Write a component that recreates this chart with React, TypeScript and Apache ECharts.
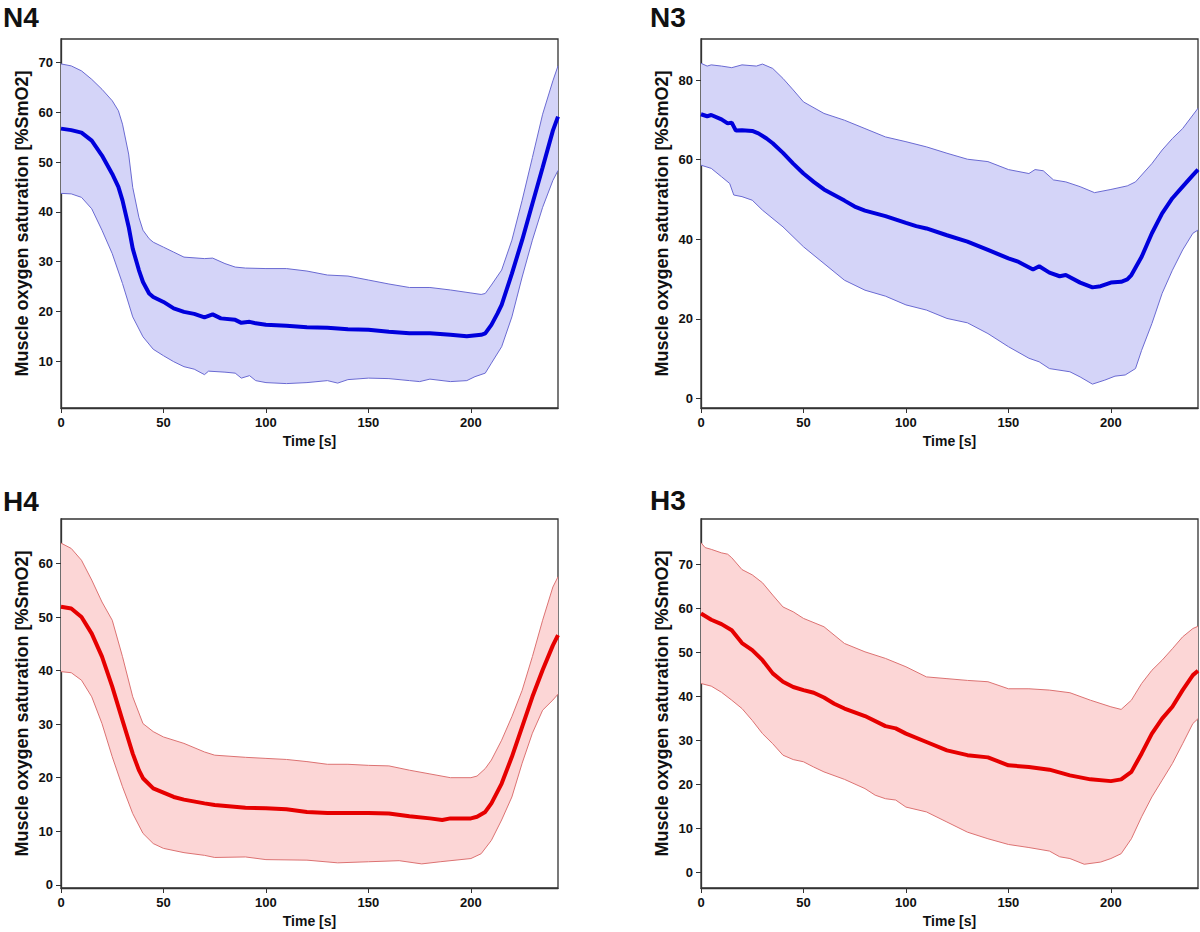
import React, { useEffect, useRef } from 'react';
import * as echarts from 'echarts';

// time [s] / %SmO2 pairs
const n4Mean = [[0,56.7],[5,56.4],[10,55.9],[15,54.3],[20,51.3],[25,47.6],[28,45],[30,42.3],[33,37],[35,32.6],[38,28.3],[40,25.9],[43,23.6],[45,22.9],[50,21.9],[55,20.6],[60,19.9],[65,19.5],[70,18.8],[74,19.4],[78,18.6],[85,18.3],[88,17.7],[92,17.9],[95,17.6],[100,17.3],[110,17.1],[120,16.8],[130,16.7],[140,16.4],[150,16.3],[160,15.9],[170,15.6],[180,15.6],[190,15.3],[198,15.0],[205,15.3],[207,15.6],[210,17.3],[213,19.6],[215,21.3],[220,27.6],[225,34.3],[230,41.6],[235,48.9],[240,56.3],[242.5,59.1]];
const n4Upper = [[0,69.7],[5,69.3],[10,68.3],[15,66.6],[20,64.6],[25,62.3],[28,60.3],[30,57.6],[33,51.6],[35,44.9],[38,38.9],[40,36.3],[43,34.6],[45,33.9],[50,32.9],[55,31.9],[60,30.9],[70,30.6],[74,30.7],[80,29.6],[85,28.9],[90,28.7],[100,28.6],[110,28.6],[120,28.1],[130,27.3],[140,27.1],[150,26.3],[160,25.5],[170,24.8],[180,24.8],[190,24.3],[200,23.7],[205,23.4],[207,23.6],[210,25.3],[215,28.3],[220,34.3],[225,42.3],[230,50.9],[235,59.6],[240,66.3],[242.5,69.3]];
const n4Lower = [[0,43.7],[5,43.6],[10,42.9],[15,40.6],[20,36.3],[25,31.6],[30,25.6],[35,18.9],[40,14.9],[45,12.4],[50,11.1],[55,9.9],[60,8.9],[65,8.4],[70,7.3],[72,8.0],[80,7.8],[85,7.6],[88,6.6],[92,7.1],[95,6.1],[100,5.7],[110,5.5],[120,5.7],[130,6.1],[135,5.6],[140,6.3],[150,6.6],[160,6.5],[170,6.1],[175,5.9],[180,6.4],[190,5.9],[198,6.1],[202,6.9],[207,7.6],[210,9.6],[215,12.9],[220,18.9],[225,26.9],[230,34.3],[235,40.9],[240,46.3],[242.5,48.3]];

const n3Mean = [[0,71.4],[3,70.9],[5,71.2],[10,70.1],[13,69.1],[15,69.3],[17,67.3],[20,67.4],[25,67.2],[28,66.6],[32,65.3],[35,64.1],[40,61.7],[45,59.0],[50,56.5],[55,54.4],[60,52.5],[65,51.1],[70,49.7],[75,48.2],[80,47.2],[90,45.8],[100,44.1],[105,43.3],[110,42.7],[120,41.0],[130,39.4],[140,37.3],[150,35.2],[155,34.3],[162,32.4],[165,33.2],[170,31.6],[175,30.7],[178,31.0],[185,29.1],[191,27.9],[195,28.2],[200,29.1],[205,29.3],[208,29.9],[210,31.0],[215,35.6],[220,41.5],[225,46.5],[230,50.3],[235,53.2],[240,56.1],[242.5,57.5]];
const n3Upper = [[0,84.2],[3,83.5],[5,83.8],[10,83.5],[15,83.1],[20,83.8],[27,83.5],[30,84.0],[35,82.9],[40,80.4],[45,77.5],[50,74.5],[60,71.6],[70,69.9],[80,67.8],[90,65.7],[100,64.5],[110,63.2],[120,61.6],[130,60.1],[140,59.5],[150,57.5],[160,56.5],[163,57.5],[167,57.2],[172,54.9],[178,54.4],[185,53.2],[192,51.7],[200,52.5],[208,53.4],[212,54.4],[220,59.0],[225,62.4],[230,65.3],[235,67.8],[242.5,72.9]];
const n3Lower = [[0,58.6],[5,57.8],[10,55.7],[14,54.0],[16,51.1],[20,50.7],[25,49.8],[30,47.3],[40,43.1],[50,38.1],[60,33.9],[70,29.7],[80,27.2],[90,25.7],[100,23.5],[110,22.2],[120,20.1],[130,19.0],[140,16.3],[150,13.0],[160,10.1],[165,9.2],[170,7.5],[180,6.7],[185,5.4],[191,3.6],[197,4.6],[202,5.6],[207,5.9],[212,7.5],[215,12.1],[220,18.8],[225,26.4],[230,32.2],[235,37.3],[240,41.5],[242.5,42.3]];

const h4Mean = [[0,51.9],[5,51.6],[10,50.0],[15,46.9],[20,42.6],[25,37.0],[30,30.7],[35,24.5],[38,21.4],[40,19.9],[45,18.0],[50,17.2],[55,16.4],[60,15.9],[70,15.2],[75,14.9],[90,14.4],[100,14.3],[110,14.1],[120,13.6],[130,13.4],[140,13.4],[150,13.4],[160,13.3],[170,12.8],[180,12.4],[186,12.1],[190,12.4],[200,12.4],[203,12.7],[207,13.6],[210,15.2],[215,18.9],[220,23.9],[225,29.5],[230,35.1],[235,40.1],[240,44.7],[242.5,46.6]];
const h4Upper = [[0,63.8],[5,62.8],[10,60.6],[15,56.9],[20,52.8],[25,49.4],[30,42.6],[35,35.1],[40,30.1],[45,28.6],[50,27.6],[60,26.4],[70,24.8],[75,24.2],[90,23.8],[100,23.6],[110,23.4],[120,23.0],[130,22.5],[140,22.5],[150,22.3],[160,22.2],[170,21.4],[180,20.7],[190,20.0],[200,20.0],[203,20.3],[207,21.7],[210,23.3],[215,27.0],[220,31.4],[225,36.3],[230,42.6],[235,49.4],[240,55.6],[242.5,57.5]];
const h4Lower = [[0,39.8],[5,39.6],[10,38.2],[15,35.1],[20,30.1],[25,23.9],[30,18.3],[35,13.3],[40,9.6],[45,7.7],[50,6.8],[60,6.0],[70,5.5],[75,5.1],[90,5.2],[100,4.7],[120,4.6],[135,4.1],[150,4.3],[165,4.5],[176,3.9],[185,4.3],[200,4.9],[205,5.8],[210,8.3],[215,12.1],[220,16.4],[225,22.7],[230,28.3],[235,32.6],[240,34.5],[242.5,35.6]];

const h3Mean = [[0,58.9],[5,57.5],[10,56.5],[15,55.1],[20,52.2],[25,50.6],[30,48.3],[35,45.3],[40,43.4],[45,42.2],[50,41.5],[55,40.9],[60,39.8],[65,38.4],[70,37.3],[80,35.6],[90,33.3],[95,32.8],[100,31.6],[110,29.7],[120,27.8],[130,26.7],[140,26.2],[150,24.4],[160,24.0],[170,23.4],[180,22.1],[190,21.2],[200,20.8],[205,21.2],[210,22.9],[215,27.1],[220,31.6],[225,35.0],[230,37.7],[235,41.5],[240,44.9],[242.5,45.9]];
const h3Upper = [[0,75.0],[2,73.9],[5,73.5],[10,72.7],[13,72.4],[15,71.6],[20,68.9],[25,67.7],[30,65.9],[35,63.1],[40,60.4],[45,59.3],[50,57.8],[60,55.9],[70,52.1],[80,50.2],[90,48.7],[100,46.8],[110,44.5],[120,44.1],[130,43.7],[140,43.4],[150,41.8],[160,41.8],[170,41.5],[180,40.9],[190,39.2],[200,37.7],[205,37.1],[210,39.2],[215,43.0],[220,46.0],[225,48.3],[230,50.9],[235,53.6],[240,55.5],[242.5,56.0]];
const h3Lower = [[0,43.0],[5,42.4],[10,41.0],[15,39.2],[20,37.3],[25,34.6],[30,31.6],[35,29.3],[40,26.7],[45,25.7],[50,25.2],[55,24.0],[60,22.9],[70,21.2],[80,19.1],[85,17.6],[90,16.8],[95,16.5],[100,14.9],[110,13.8],[120,11.5],[130,9.2],[140,7.7],[150,6.4],[160,5.7],[170,4.9],[175,3.6],[180,3.2],[187,1.9],[195,2.4],[200,3.2],[205,4.3],[210,7.7],[215,12.7],[220,17.2],[225,21.0],[230,24.8],[235,29.3],[240,33.9],[242.5,35.0]];

const panelTitles = ['N4', 'N3', 'H4', 'H3'];
const timeTicks = [0, 50, 100, 150, 200];
const n4Ticks = [10, 20, 30, 40, 50, 60, 70];
const n3Ticks = [0, 20, 40, 60, 80];
const h4Ticks = [0, 10, 20, 30, 40, 50, 60];
const h3Ticks = [0, 10, 20, 30, 40, 50, 60, 70];

const BLUE = { fill: '#d4d4f8', edge: '#6a6ad2', line: '#0000dc' };
const RED = { fill: '#fcd6d6', edge: '#dc7272', line: '#e60000' };

const font = '"Liberation Sans", Arial, sans-serif';

const panels = [
  { mean: n4Mean, upper: n4Upper, lower: n4Lower, ticks: n4Ticks, yMin: 0.6, yMax: 74.7, col: BLUE, grid: { left: 61, top: 39, width: 497, height: 369 } },
  { mean: n3Mean, upper: n3Upper, lower: n3Lower, ticks: n3Ticks, yMin: -2.4, yMax: 90.3, col: BLUE, grid: { left: 701, top: 39, width: 497, height: 369 } },
  { mean: h4Mean, upper: h4Upper, lower: h4Lower, ticks: h4Ticks, yMin: -0.6, yMax: 68.3, col: RED, grid: { left: 61, top: 519, width: 497, height: 369 } },
  { mean: h3Mean, upper: h3Upper, lower: h3Lower, ticks: h3Ticks, yMin: -3.5, yMax: 80.4, col: RED, grid: { left: 701, top: 519, width: 497, height: 369 } },
];

const titlePos = [[3, 17], [650, 17], [3, 501], [650, 500]];

const App: React.FC = () => {
  const chartRef = useRef<HTMLDivElement | null>(null);

  useEffect(() => {
    const chart = echarts.init(chartRef.current!, undefined, { renderer: 'svg' });

    const labelStyle = { fontFamily: font, fontWeight: 'bold' as const, fontSize: 13, color: '#111' };

    const option: any = {
      animation: false,
      backgroundColor: '#fff',
      grid: panels.map((p) => ({
        ...p.grid,
        show: true,
        borderColor: '#333',
        borderWidth: 1.3,
        backgroundColor: 'transparent',
      })),
      xAxis: panels.map((p, i) => ({
        type: 'value',
        gridIndex: i,
        min: 0,
        max: 242.5,
        name: 'Time [s]',
        nameLocation: 'middle',
        nameGap: 26,
        nameTextStyle: { ...labelStyle, fontSize: 14 },
        axisLine: { show: true, onZero: false, lineStyle: { color: '#333', width: 1.3 } },
        axisTick: { show: true, length: 5, customValues: timeTicks, lineStyle: { color: '#333' } },
        axisLabel: { ...labelStyle, margin: 8, customValues: timeTicks },
        splitLine: { show: false },
      })),
      yAxis: panels.map((p, i) => ({
        type: 'value',
        gridIndex: i,
        min: p.yMin,
        max: p.yMax,
        name: 'Muscle oxygen saturation [%SmO2]',
        nameLocation: 'middle',
        nameGap: 30,
        nameTextStyle: { ...labelStyle, fontSize: 18 },
        axisLine: { show: true, onZero: false, lineStyle: { color: '#333', width: 1.3 } },
        axisTick: { show: true, length: 5, customValues: p.ticks, lineStyle: { color: '#333' } },
        axisLabel: { ...labelStyle, margin: 8, customValues: p.ticks },
        splitLine: { show: false },
      })),
      graphic: panelTitles.map((t, i) => ({
        type: 'text',
        x: titlePos[i][0],
        y: titlePos[i][1],
        style: {
          text: t,
          font: `bold 28px ${font}`,
          fill: '#111',
          textVerticalAlign: 'middle',
        },
      })),
      series: panels.flatMap((p, i) => [
        {
          type: 'custom',
          xAxisIndex: i,
          yAxisIndex: i,
          z: 1,
          silent: true,
          data: [[0, p.mean[0][1]]],
          renderItem: (_params: any, api: any) => {
            const pts = [
              ...p.upper.map((d) => api.coord(d)),
              ...p.lower.slice().reverse().map((d) => api.coord(d)),
            ];
            return { type: 'polygon', shape: { points: pts }, style: { fill: p.col.fill } };
          },
        },
        {
          type: 'line',
          xAxisIndex: i,
          yAxisIndex: i,
          z: 2,
          symbol: 'none',
          silent: true,
          data: p.upper,
          lineStyle: { color: p.col.edge, width: 1 },
        },
        {
          type: 'line',
          xAxisIndex: i,
          yAxisIndex: i,
          z: 2,
          symbol: 'none',
          silent: true,
          data: p.lower,
          lineStyle: { color: p.col.edge, width: 1 },
        },
        {
          type: 'line',
          xAxisIndex: i,
          yAxisIndex: i,
          z: 3,
          symbol: 'none',
          silent: true,
          data: p.mean,
          lineStyle: { color: p.col.line, width: 4 },
        },
      ]),
    };

    chart.setOption(option);

    return () => {
      chart.dispose();
    };
  }, []);

  return (
    <div
      ref={chartRef}
      style={{ position: 'absolute', left: 0, top: 0, width: '1200px', height: '932px' }}
    />
  );
};

export default App;
